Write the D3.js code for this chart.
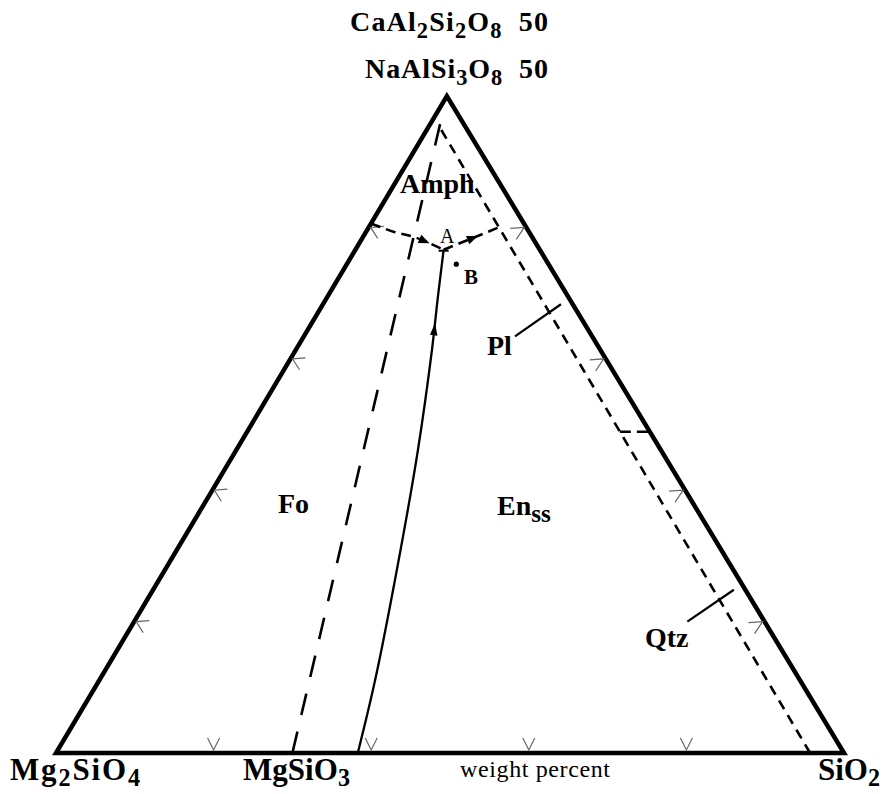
<!DOCTYPE html>
<html><head><meta charset="utf-8">
<script src="https://cdn.jsdelivr.net/npm/d3@7"></script>
<style>body{margin:0;background:#fff}text{white-space:pre}</style>
</head><body>
<svg id="chart" width="883" height="794"></svg>
<script>
// ---------- data (ternary coords: [SiO2 fraction, plagioclase fraction], Mg2SiO4 = remainder) ----------
const vertices = [[0,0],[1,0],[0,1]];
const topLabels = [
  [["CaAl",0],["2",1],["Si",0],["2",1],["O",0],["8",1],["  50",0]],
  [["NaAlSi",0],["3",1],["O",0],["8",1],["  50",0]]
];
const baseLabels = [
  [["Mg",0],["2",1],["SiO",0],["4",1]],
  [["MgSiO",0],["3",1]],
  [["SiO",0],["2",1]]
];
const axisTitle = "weight percent";
const fieldLabels = ["Amph","Fo","Pl","Qtz"];
const enLabel = [["En",0],["ss",1]];
const pointLabels = ["A","B"];
const joinLine = [[0.30,0],[0.007,0.976]];                 // MgSiO3 – plagioclase join
const enBoundary = [[0.957,0],[0.012,0.955]];             // Enss / Pl, Qtz boundary
const amphBoundaryLeft = [[0,0.806],[0.036,0.793],[0.066,0.785],[0.112,0.766]];
const amphBoundaryRight = [[0.112,0.766],[0.142,0.785],[0.165,0.800]];
const foEnBoundary = [[0.383,0],[0.349,0.114],[0.285,0.306],[0.231,0.460],[0.173,0.613],[0.142,0.690],[0.112,0.766]];
const plQtzBoundary = [[0.473,0.489],[0.511,0.489]];
const pointB = [0.139,0.744];
const plLeader = [[0.268,0.634],[0.302,0.683]];
const qtzLeader = [[0.702,0.200],[0.737,0.2485]];
const edgeStops = [0.2,0.4,0.6,0.8];

// ---------- scales ----------
const svg = d3.select("#chart");
const x = d3.scaleLinear().domain([0,1]).range([56,844]);
const y = d3.scaleLinear().domain([0,1]).range([753,96]);
const px = d => x(d[0] + d[1]*0.496), py = d => y(d[1]);
const line = d3.line().x(px).y(py);
const curve = d3.line().x(px).y(py).curve(d3.curveCatmullRom.alpha(0.5));
const FONT = "'Liberation Serif','Times New Roman',serif";

// triangle
svg.append("path").attr("d", line(vertices) + "Z")
  .attr("fill","none").attr("stroke","#000").attr("stroke-width",4.5).attr("stroke-linejoin","miter");

// edge chevrons
const chev = svg.append("g").attr("fill","none").attr("stroke","#666").attr("stroke-width",1.2);
edgeStops.forEach(s => {
  let X = px([0,s]), Y = py([0,s]);
  chev.append("path").attr("d", d3.line()([[X+15,Y-1],[X+2,Y],[X+9,Y+11]]));
  X = px([1-s,s]); Y = py([1-s,s]);
  chev.append("path").attr("d", d3.line()([[X-16,Y+1],[X-2,Y],[X-10,Y+12]]));
  X = px([s,0]); Y = py([s,0]);
  chev.append("path").attr("d", d3.line()([[X-6,Y-15],[X,Y-3],[X+6,Y-15]]));
});

// boundaries
svg.append("path").attr("d", line(joinLine)).attr("fill","none").attr("stroke","#000")
  .attr("stroke-width",2.6).attr("stroke-dasharray","22,17");
svg.append("path").attr("d", line(enBoundary)).attr("fill","none").attr("stroke","#000")
  .attr("stroke-width",2.6).attr("stroke-dasharray","10,7");
svg.append("path").attr("d", line(plQtzBoundary)).attr("fill","none").attr("stroke","#000")
  .attr("stroke-width",2.6).attr("stroke-dasharray","11,6");
const aL = svg.append("path").attr("d", curve(amphBoundaryLeft)).attr("fill","none").attr("stroke","#000")
  .attr("stroke-width",2.6).attr("stroke-dasharray","10,6");
const aR = svg.append("path").attr("d", curve(amphBoundaryRight)).attr("fill","none").attr("stroke","#000")
  .attr("stroke-width",2.6).attr("stroke-dasharray","10,6");
const fe = svg.append("path").attr("d", curve(foEnBoundary)).attr("fill","none").attr("stroke","#000")
  .attr("stroke-width",2.3);

// arrowheads along paths
function arrowAt(node, frac, len, hw) {
  const L = node.getTotalLength();
  const p = node.getPointAtLength(L*frac), q = node.getPointAtLength(Math.max(0,L*frac - 3));
  let dx = p.x - q.x, dy = p.y - q.y; const n = Math.hypot(dx,dy); dx/=n; dy/=n;
  const bx = p.x - dx*len, by = p.y - dy*len;
  svg.append("path").attr("d", d3.line()([[p.x,p.y],[bx - dy*hw, by + dx*hw],[bx + dy*hw, by - dx*hw]]) + "Z")
    .attr("fill","#000");
}
arrowAt(aL.node(), 0.80, 11, 4.5);
arrowAt(aR.node(), 0.62, 11, 4.5);
arrowAt(fe.node(), 0.855, 12, 3.8);
// small cap at A
const A = foEnBoundary[foEnBoundary.length-1];
svg.append("path").attr("d", d3.line()([[px(A)-5, py(A)+1],[px(A)+5, py(A)+1]]))
  .attr("stroke","#000").attr("stroke-width",2);

// leaders
[plLeader, qtzLeader].forEach(l => svg.append("path").attr("d", line(l)).attr("stroke","#000").attr("stroke-width",2.2));

// point B
svg.append("circle").attr("cx", px(pointB)).attr("cy", py(pointB)).attr("r",2.6).attr("fill","#000");

// ---------- text ----------
function formula(parts, X, Y, size, len, subScale, subShift) {
  const t = svg.append("text").attr("x",X).attr("y",Y).attr("font-family",FONT)
    .attr("font-size",size).attr("font-weight","bold").attr("fill","#000");
  if (len) t.attr("textLength",len).attr("lengthAdjust","spacing");
  let prev = 0;
  parts.forEach(([s,sub]) => {
    const ts = t.append("tspan").text(s);
    const shift = sub ? size*(subShift||0.26) : 0;
    ts.attr("dy", shift - prev);
    if (sub) ts.attr("font-size", size*(subScale||0.8));
    prev = shift;
  });
  return t;
}
formula(topLabels[0], 350, 31, 28, 198);
formula(topLabels[1], 365, 78, 28, 183);
formula(baseLabels[0], 10, 780, 31, 130, 0.78, 0.2);
formula(baseLabels[1], 243, 780, 31, 107, 0.78, 0.2);
formula(baseLabels[2], 818, 780, 31, 62, 0.78, 0.2);
svg.append("text").attr("x",460).attr("y",777).attr("font-family",FONT).attr("font-size",24)
  .attr("textLength",150).attr("lengthAdjust","spacing").text(axisTitle);
const fPos = [[400,193],[278,513],[487,355],[645,647]];
fieldLabels.forEach((s,i) => svg.append("text").attr("x",fPos[i][0]).attr("y",fPos[i][1])
  .attr("font-family",FONT).attr("font-size",28).attr("font-weight","bold").text(s));
formula(enLabel, 497, 515, 28, null, 0.9);
svg.append("text").attr("x",440).attr("y",243).attr("font-family",FONT).attr("font-size",20).text(pointLabels[0]);
svg.append("text").attr("x",464).attr("y",284).attr("font-family",FONT).attr("font-size",21).attr("font-weight","bold").text(pointLabels[1]);
</script>
</body></html>
